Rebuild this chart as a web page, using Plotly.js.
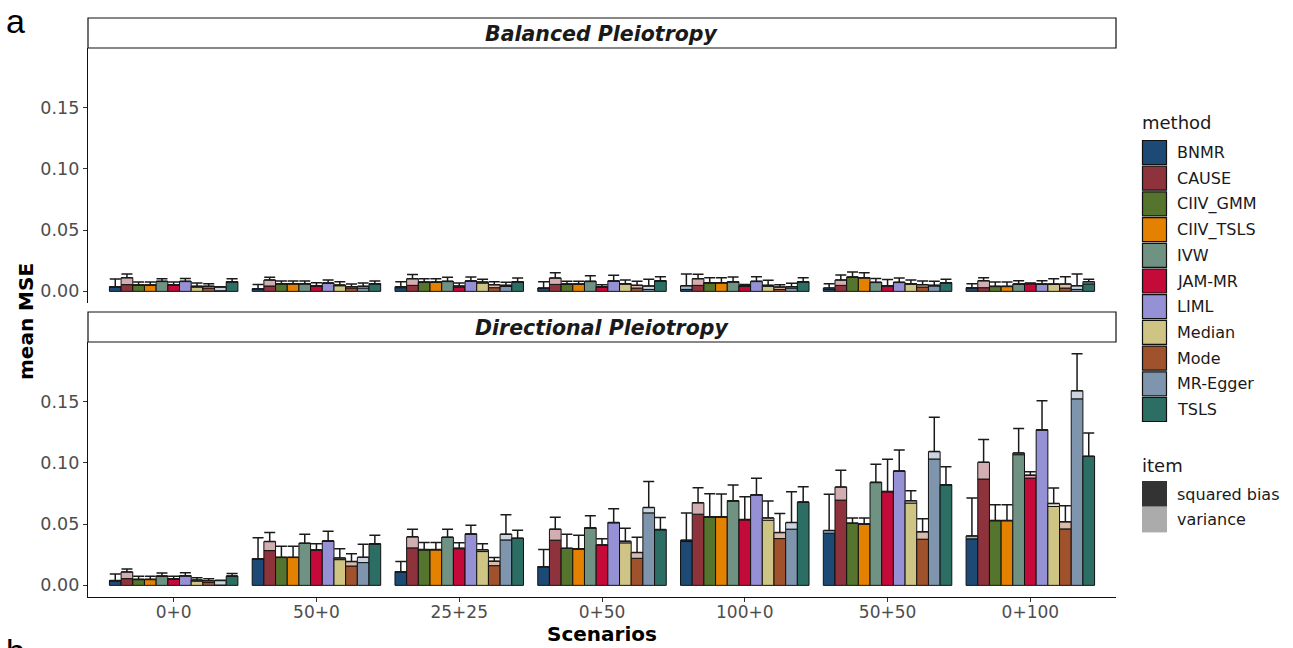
<!DOCTYPE html>
<html><head><meta charset="utf-8">
<script src="https://cdn.plot.ly/plotly-3.0.1.min.js"></script>
<style>html,body{margin:0;padding:0;background:#fff}#chart{width:1293px;height:648px}</style>
</head><body><div id="chart"></div><script>
const scenarios = ['0+0','50+0','25+25','0+50','100+0','50+50','0+100'];
const methods = ['BNMR','CAUSE','CIIV_GMM','CIIV_TSLS','IVW','JAM-MR','LIML','Median','Mode','MR-Egger','TSLS'];
const methodColors = ['#1c4a75','#8e323c','#55742e','#e58100','#6f9283','#c40a38','#9690d4','#cec584','#a0522d','#7f95ae','#2d6e64'];
const items = ['squared bias','variance'];
const itemColors = ['#333333','#ababab'];
const panelTitles = ['Balanced Pleiotropy','Directional Pleiotropy'];
const yTicks = [0, 0.05, 0.10, 0.15];
const yTickText = ['0.00','0.05','0.10','0.15'];

// Balanced pleiotropy: rows = methods, columns = scenarios
const balancedBias = [
  [0.0036,0.0018,0.0030,0.0024,0.0016,0.0016,0.0026],
  [0.0055,0.0044,0.0049,0.0057,0.0049,0.0049,0.0030],
  [0.0050,0.0061,0.0074,0.0058,0.0069,0.0115,0.0039],
  [0.0050,0.0061,0.0074,0.0058,0.0069,0.0110,0.0039],
  [0.0080,0.0061,0.0080,0.0080,0.0077,0.0072,0.0058],
  [0.0052,0.0044,0.0035,0.0036,0.0042,0.0044,0.0062],
  [0.0080,0.0066,0.0083,0.0083,0.0080,0.0072,0.0058],
  [0.0035,0.0046,0.0068,0.0060,0.0041,0.0058,0.0057],
  [0.0027,0.0027,0.0030,0.0027,0.0016,0.0035,0.0027],
  [0.0005,0.0027,0.0040,0.0016,0.0027,0.0044,0.0016],
  [0.0077,0.0061,0.0077,0.0085,0.0077,0.0069,0.0061]
];
const balancedVariance = [
  [0.0002,0.0004,0.0008,0.0003,0.0030,0.0011,0.0004],
  [0.0057,0.0049,0.0055,0.0052,0.0055,0.0044,0.0057],
  [0.0002,0.0002,0.0002,0.0002,0.0002,0.0002,0.0002],
  [0.0002,0.0002,0.0002,0.0002,0.0002,0.0002,0.0002],
  [0.0002,0.0002,0.0002,0.0002,0.0002,0.0002,0.0002],
  [0.0003,0.0002,0.0009,0.0002,0.0002,0.0002,0.0003],
  [0.0002,0.0002,0.0002,0.0002,0.0002,0.0002,0.0002],
  [0.0007,0.0006,0.0008,0.0003,0.0008,0.0005,0.0003],
  [0.0015,0.0011,0.0025,0.0022,0.0019,0.0020,0.0033],
  [0.0030,0.0014,0.0009,0.0028,0.0011,0.0005,0.0030],
  [0.0002,0.0002,0.0002,0.0002,0.0002,0.0002,0.0018]
];
const balancedError = [
  [0.0063,0.0035,0.0041,0.0052,0.0096,0.0036,0.0033],
  [0.0030,0.0022,0.0033,0.0044,0.0035,0.0041,0.0025],
  [0.0024,0.0022,0.0028,0.0022,0.0041,0.0041,0.0035],
  [0.0024,0.0022,0.0028,0.0022,0.0041,0.0041,0.0035],
  [0.0022,0.0022,0.0033,0.0046,0.0038,0.0032,0.0027],
  [0.0021,0.0025,0.0024,0.0017,0.0013,0.0050,0.0003],
  [0.0024,0.0025,0.0032,0.0046,0.0038,0.0035,0.0027],
  [0.0026,0.0027,0.0022,0.0030,0.0041,0.0030,0.0044],
  [0.0021,0.0022,0.0024,0.0033,0.0020,0.0030,0.0060],
  [0.0002,0.0027,0.0025,0.0054,0.0028,0.0033,0.0096],
  [0.0025,0.0022,0.0030,0.0033,0.0033,0.0027,0.0019]
];

// Directional pleiotropy
const directionalBias = [
  [0.0036,0.0215,0.0110,0.0151,0.0358,0.0426,0.0380],
  [0.0055,0.0284,0.0306,0.0369,0.0581,0.0696,0.0868],
  [0.0047,0.0227,0.0290,0.0301,0.0558,0.0506,0.0528],
  [0.0047,0.0227,0.0290,0.0296,0.0558,0.0500,0.0528],
  [0.0074,0.0342,0.0391,0.0468,0.0689,0.0839,0.1067],
  [0.0052,0.0287,0.0300,0.0328,0.0535,0.0764,0.0876],
  [0.0077,0.0361,0.0418,0.0511,0.0738,0.0932,0.1268],
  [0.0035,0.0210,0.0276,0.0347,0.0532,0.0672,0.0644],
  [0.0025,0.0158,0.0161,0.0221,0.0382,0.0377,0.0461],
  [0.0003,0.0186,0.0371,0.0592,0.0459,0.1032,0.1523],
  [0.0074,0.0337,0.0383,0.0454,0.0678,0.0820,0.1052]
];
const directionalVariance = [
  [0.0003,0.0003,0.0002,0.0002,0.0011,0.0022,0.0024],
  [0.0055,0.0074,0.0090,0.0090,0.0093,0.0107,0.0137],
  [0.0002,0.0002,0.0002,0.0002,0.0002,0.0002,0.0002],
  [0.0002,0.0002,0.0002,0.0002,0.0002,0.0002,0.0002],
  [0.0002,0.0002,0.0002,0.0002,0.0002,0.0002,0.0014],
  [0.0003,0.0002,0.0003,0.0002,0.0003,0.0003,0.0024],
  [0.0002,0.0002,0.0002,0.0002,0.0002,0.0002,0.0002],
  [0.0009,0.0014,0.0014,0.0013,0.0019,0.0019,0.0025],
  [0.0013,0.0036,0.0036,0.0047,0.0049,0.0060,0.0058],
  [0.0037,0.0043,0.0047,0.0044,0.0054,0.0060,0.0066],
  [0.0002,0.0002,0.0002,0.0002,0.0002,0.0002,0.0002]
];
const directionalError = [
  [0.0054,0.0170,0.0082,0.0139,0.0221,0.0295,0.0309],
  [0.0024,0.0073,0.0063,0.0098,0.0123,0.0136,0.0185],
  [0.0025,0.0090,0.0058,0.0115,0.0188,0.0043,0.0128],
  [0.0025,0.0090,0.0058,0.0112,0.0185,0.0049,0.0128],
  [0.0024,0.0074,0.0066,0.0098,0.0128,0.0147,0.0199],
  [0.0019,0.0050,0.0044,0.0050,0.0185,0.0262,0.0028],
  [0.0025,0.0079,0.0071,0.0112,0.0134,0.0172,0.0237],
  [0.0019,0.0074,0.0049,0.0107,0.0137,0.0082,0.0125],
  [0.0017,0.0065,0.0030,0.0125,0.0156,0.0106,0.0131],
  [0.0002,0.0107,0.0158,0.0213,0.0251,0.0281,0.0303],
  [0.0020,0.0071,0.0065,0.0098,0.0125,0.0147,0.0191]
];

// ---------- geometry (pixels) ----------
const W = 1293, H = 648, PL = 88, PR = 1116, PT = 18, PB = 597;
const px = x => (x - PL) / (PR - PL);
const py = y => (PB - y) / (PB - PT);
const FONT = 'DejaVu Sans, sans-serif';

function lighten(hex, a) {
  const n = parseInt(hex.slice(1), 16);
  const r = (n >> 16) & 255, g = (n >> 8) & 255, b = n & 255;
  const f = c => Math.round(a * c + (1 - a) * 255);
  return 'rgb(' + f(r) + ',' + f(g) + ',' + f(b) + ')';
}

const dodge = 0.9 / methods.length;
const traces = [];
const panelData = [
  {bias: balancedBias, variance: balancedVariance, err: balancedError, yaxis: 'y'},
  {bias: directionalBias, variance: directionalVariance, err: directionalError, yaxis: 'y2'}
];
panelData.forEach(pd => {
  methods.forEach((m, mi) => {
    const xs = scenarios.map((s, si) => si + (mi - (methods.length - 1) / 2) * dodge);
    const bias = pd.bias[mi], vari = pd.variance[mi];
    const tops = bias.map((b, i) => b + vari[i]);
    traces.push({
      type: 'bar', x: xs, y: bias, width: dodge, xaxis: 'x', yaxis: pd.yaxis,
      marker: {color: methodColors[mi], line: {color: '#111', width: 1}},
      name: m + ' squared bias', showlegend: false, hoverinfo: 'skip'
    });
    traces.push({
      type: 'bar', x: xs, y: vari, base: bias, width: dodge, xaxis: 'x', yaxis: pd.yaxis,
      marker: {color: lighten(methodColors[mi], 0.4), line: {color: '#111', width: 1}},
      name: m + ' variance', showlegend: false, hoverinfo: 'skip'
    });
    traces.push({
      type: 'scatter', mode: 'markers', x: xs, y: tops, xaxis: 'x', yaxis: pd.yaxis,
      marker: {opacity: 0, size: 1},
      error_y: {type: 'data', symmetric: false, array: pd.err[mi], arrayminus: pd.err[mi].map(() => 0),
                color: '#1a1a1a', thickness: 1.5, width: 5.5},
      showlegend: false, hoverinfo: 'skip'
    });
  });
});

const shapes = [];
const annotations = [];
// strips
const strips = [[18, 48], [312, 342]];
strips.forEach((s, i) => {
  shapes.push({type: 'rect', xref: 'paper', yref: 'paper', x0: 0, x1: 1, y0: py(s[1]), y1: py(s[0]),
               line: {color: '#111', width: 1.2}, fillcolor: '#fff', layer: 'above'});
  annotations.push({xref: 'paper', yref: 'paper', x: 0.5, y: py((s[0] + s[1]) / 2 + 0.5), xanchor: 'center', yanchor: 'middle',
    text: '<b><i>' + panelTitles[i] + '</i></b>', showarrow: false, font: {family: FONT, size: 20.5, color: '#1a1a1a'}});
});
// legend: method
annotations.push({xref: 'paper', yref: 'paper', x: px(1140), y: py(123), xanchor: 'left', yanchor: 'middle',
  text: 'method', showarrow: false, font: {family: FONT, size: 18, color: '#1a1a1a'}});
methods.forEach((m, i) => {
  const y0 = 140.5 + 25.7 * i;
  shapes.push({type: 'rect', xref: 'paper', yref: 'paper', x0: px(1142.5), x1: px(1166.5), y0: py(y0 + 24), y1: py(y0),
    fillcolor: methodColors[i], line: {color: '#111', width: 1.2}});
  annotations.push({xref: 'paper', yref: 'paper', x: px(1175), y: py(y0 + 12), xanchor: 'left', yanchor: 'middle',
    text: m, showarrow: false, font: {family: FONT, size: 16, color: '#1a1a1a'}});
});
// legend: item
annotations.push({xref: 'paper', yref: 'paper', x: px(1140), y: py(465), xanchor: 'left', yanchor: 'middle',
  text: 'item', showarrow: false, font: {family: FONT, size: 18, color: '#1a1a1a'}});
items.forEach((it, i) => {
  const y0 = 481 + 25.7 * i;
  shapes.push({type: 'rect', xref: 'paper', yref: 'paper', x0: px(1142), x1: px(1167), y0: py(y0 + 25.7), y1: py(y0),
    fillcolor: itemColors[i], line: {width: 0}});
  annotations.push({xref: 'paper', yref: 'paper', x: px(1175), y: py(y0 + 13), xanchor: 'left', yanchor: 'middle',
    text: it, showarrow: false, font: {family: FONT, size: 16, color: '#1a1a1a'}});
});
// axis titles
annotations.push({xref: 'paper', yref: 'paper', x: px(26), y: py(322), xanchor: 'center', yanchor: 'middle',
  text: '<b>mean MSE</b>', textangle: -90, showarrow: false, font: {family: FONT, size: 20, color: '#000'}});
annotations.push({xref: 'paper', yref: 'paper', x: px(602), y: py(634), xanchor: 'center', yanchor: 'middle',
  text: '<b>Scenarios</b>', showarrow: false, font: {family: FONT, size: 20, color: '#000'}});
// panel tags
annotations.push({xref: 'paper', yref: 'paper', x: px(4), y: py(0), xanchor: 'left', yanchor: 'top',
  text: 'a', showarrow: false, font: {family: 'Liberation Sans, Arial, sans-serif', size: 34, color: '#000'}});
annotations.push({xref: 'paper', yref: 'paper', x: px(4), y: py(630), xanchor: 'left', yanchor: 'top',
  text: 'b', showarrow: false, font: {family: 'Liberation Sans, Arial, sans-serif', size: 34, color: '#000'}});

const yax = (dom) => ({
  domain: dom, range: [-0.0095, 0.1987], anchor: 'x', tickmode: 'array', tickvals: yTicks, ticktext: yTickText,
  ticks: 'outside', ticklen: 4, tickwidth: 1, tickcolor: '#333', showline: true, linecolor: '#111', linewidth: 1.2,
  showgrid: false, zeroline: false, tickfont: {family: FONT, size: 17.5, color: '#4d4d4d'}, fixedrange: true
});

const layout = {
  width: W, height: H, margin: {l: PL, r: W - PR, t: PT, b: H - PB},
  paper_bgcolor: '#fff', plot_bgcolor: '#fff', barmode: 'overlay', showlegend: false,
  xaxis: {domain: [0, 1], range: [-0.6, 6.6], anchor: 'y2', tickmode: 'array',
    tickvals: scenarios.map((s, i) => i), ticktext: scenarios,
    ticks: 'outside', ticklen: 4, tickwidth: 1, tickcolor: '#333', showline: true, linecolor: '#111', linewidth: 1.2,
    ticklabelstandoff: -5,
    showgrid: false, zeroline: false, tickfont: {family: FONT, size: 17, color: '#4d4d4d'}, fixedrange: true},
  yaxis: yax([py(303), py(48)]),
  yaxis2: yax([0, py(342)]),
  shapes: shapes, annotations: annotations
};

Plotly.newPlot('chart', traces, layout, {displayModeBar: false, staticPlot: true});
</script></body></html>
